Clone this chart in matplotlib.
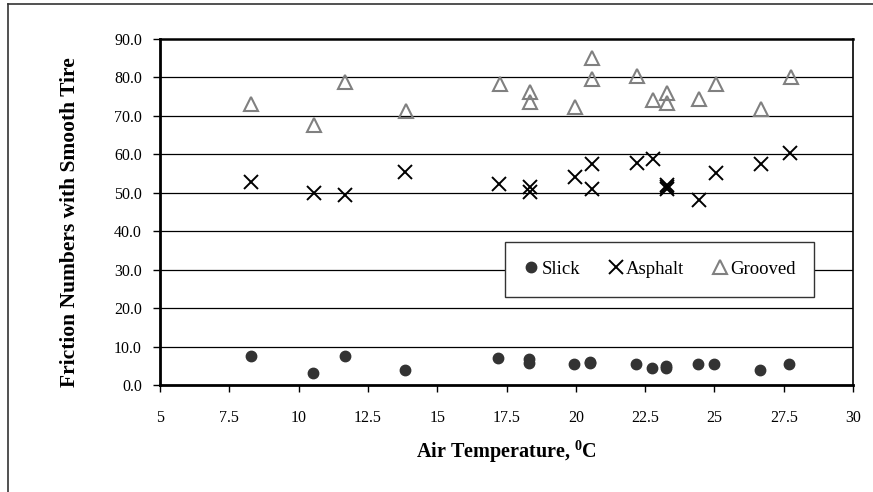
import matplotlib
matplotlib.use('Agg')
import matplotlib.pyplot as plt
from matplotlib.lines import Line2D

plt.rcParams['font.family'] = ['Liberation Serif', 'DejaVu Serif']
plt.rcParams['font.size'] = 11

# data
slick_t = [8.28, 10.52, 11.66, 13.83, 17.2, 18.3, 18.3, 19.95, 20.53, 20.53,
           22.18, 22.76, 23.26, 23.26, 24.4, 24.98, 26.65, 27.7]
slick_f = [7.6, 3.0, 7.6, 4.0, 7.0, 6.7, 5.7, 5.5, 5.6, 6.0,
           5.5, 4.4, 4.5, 5.0, 5.5, 5.5, 4.0, 5.5]

asphalt_t = [8.29, 10.54, 11.68, 13.85, 17.24, 18.34, 18.34, 19.97, 20.57, 20.57,
             22.2, 22.78, 23.28, 23.28, 23.28, 24.44, 25.04, 26.67, 27.73]
asphalt_f = [52.7, 49.9, 49.5, 55.4, 52.2, 51.5, 50.2, 54.1, 57.4, 51.0,
             57.8, 58.9, 51.0, 51.5, 52.0, 48.0, 55.2, 57.4, 60.3]

grooved_t = [8.3, 10.54, 11.68, 13.87, 17.26, 18.34, 18.34, 19.97, 20.57, 20.57,
             22.2, 22.8, 23.3, 23.3, 24.46, 25.04, 26.69, 27.75]
grooved_f = [73.0, 67.7, 78.7, 71.4, 78.2, 76.3, 73.7, 72.4, 85.0, 79.7,
             80.3, 74.1, 76.0, 73.3, 74.5, 78.2, 71.9, 80.2]

x_ticks = [5, 7.5, 10, 12.5, 15, 17.5, 20, 22.5, 25, 27.5, 30]
x_tick_labels = ['5', '7.5', '10', '12.5', '15', '17.5', '20', '22.5', '25', '27.5', '30']
y_ticks = [0, 10, 20, 30, 40, 50, 60, 70, 80, 90]

W, H = 873, 492
fig = plt.figure(figsize=(W / 100, H / 100), dpi=100)

# outer frame (only top and left edges are visible in the picture)
fig.add_artist(Line2D([8 / W, 1.0], [1 - 4 / H, 1 - 4 / H], color='#333333', lw=1.2))
fig.add_artist(Line2D([8 / W, 8 / W], [0.0, 1 - 4 / H], color='#333333', lw=1.2))

ax = fig.add_axes([160 / W, 1 - 385 / H, 693 / W, 346 / H])

for y in y_ticks[1:-1]:
    ax.axhline(y, color='black', lw=0.9, zorder=1)

ax.plot(slick_t, slick_f, 'o', color='#333333', ms=7.5, ls='none', label='Slick', zorder=3)
ax.plot(asphalt_t, asphalt_f, 'x', color='black', ms=9.5, mew=1.4, ls='none', label='Asphalt', zorder=3)
ax.plot(grooved_t, grooved_f, '^', mfc='none', mec='#808080', ms=9.5, mew=1.5, ls='none',
        label='Grooved', zorder=3)

ax.set_xlim(5, 30)
ax.set_ylim(0, 90)
ax.set_xticks(x_ticks)
ax.set_xticklabels(x_tick_labels)
ax.set_yticks(y_ticks)
ax.set_yticklabels([f'{v:.1f}' for v in y_ticks])
ax.tick_params(direction='out', length=5, width=1, labelsize=11.5, pad=8)
ax.tick_params(axis='x', pad=13)

ax.spines['left'].set_linewidth(2)
ax.spines['bottom'].set_linewidth(2)
ax.spines['top'].set_linewidth(1.8)
ax.spines['right'].set_linewidth(1.2)

ax.set_xlabel('Air Temperature, $\\mathregular{^0}$C', fontsize=14.5, fontweight='bold', labelpad=9)
ax.set_ylabel('Friction Numbers with Smooth Tire', fontsize=15.5, fontweight='bold')
ax.yaxis.set_label_coords(-80 / 693, 0.47)

leg = ax.legend(loc='center', bbox_to_anchor=(0.721, 0.334), ncol=3, fontsize=13.5,
                frameon=True, fancybox=False, edgecolor='#333333', framealpha=1,
                handlelength=0.8, handletextpad=0.15, columnspacing=1.5,
                borderpad=1.0, numpoints=1)
leg.get_frame().set_linewidth(1.0)
leg.set_zorder(5)

fig.savefig('out.png', dpi=100)
